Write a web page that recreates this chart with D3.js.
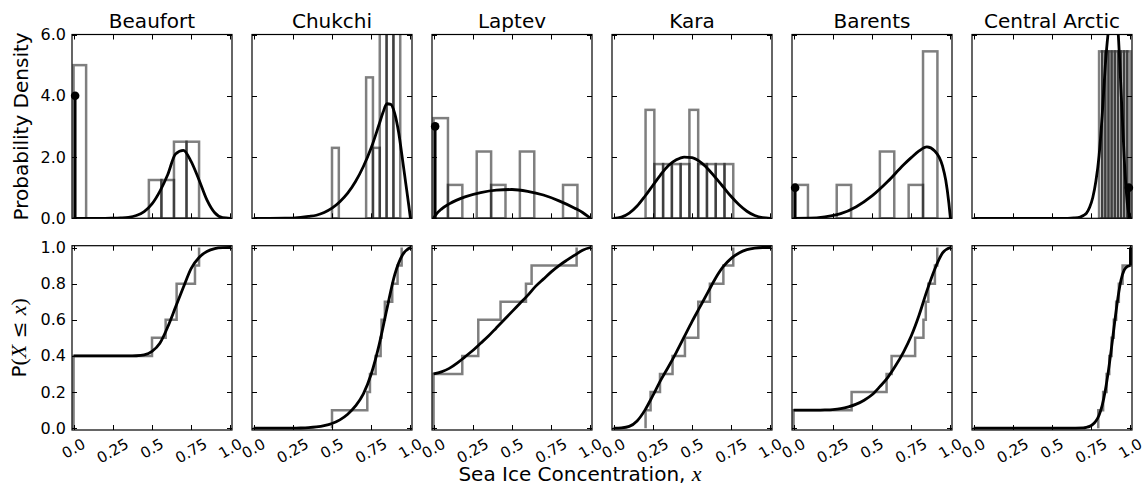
<!DOCTYPE html>
<html><head><meta charset="utf-8">
<script src="https://cdn.jsdelivr.net/npm/d3@7"></script>
<style>
body{margin:0;background:#fff}
svg{display:block}
text{font-family:"DejaVu Sans",sans-serif;fill:#000}
</style>
</head><body>
<svg id="chart" width="1145" height="486"></svg>
<script>
// ---------------- data ----------------
const regions = ["Beaufort","Chukchi","Laptev","Kara","Barents","Central Arctic"];
const xTickValues = [0,0.25,0.5,0.75,1.0];
const xTickLabels = ["0.0","0.25","0.5","0.75","1.0"];
const pdfTickValues = [0,2,4,6];
const pdfTickLabels = ["0.0","2.0","4.0","6.0"];
const cdfTickValues = [0,0.2,0.4,0.6,0.8,1.0];
const cdfTickLabels = ["0.0","0.2","0.4","0.6","0.8","1.0"];

// histogram (density) bins: first edge, bin width, bar heights
const histStart = [0,0.5,0,0.204,0,0.80];
const histWidth = [0.08,0.0435,0.0917,0.0559,0.0917,0.02];
const histHeights = [
  [5.0,0,0,0,0,0,1.25,1.25,2.5,2.5],
  [2.3,0,0,0,0,4.6,2.3,6.9,6.9,6.9],
  [3.27,1.09,0,2.18,1.09,0,2.18,0,0,1.09],
  [3.54,1.77,1.77,1.77,1.77,3.54,1.77,1.77,1.77,1.77],
  [1.09,0,0,1.09,0,0,2.18,0,1.09,5.45],
  [5.45,5.45,5.45,5.45,5.45,5.45,5.45,5.45,5.45,5.45]
];
// point masses (lollipops)
const massX = [0.01,null,0.01,null,0.01,0.99];
const massHeight = [4.0,null,3.0,null,1.0,1.0];
// samples for the empirical CDF
const ecdfSamples = [
  [0,0,0,0,0.50,0.587,0.657,0.657,0.774,0.80],
  [0.50,0.725,0.742,0.778,0.81,0.816,0.837,0.884,0.918,0.944],
  [0,0,0,0.183,0.285,0.285,0.427,0.589,0.625,0.912],
  [0.204,0.236,0.296,0.376,0.455,0.54,0.54,0.614,0.70,0.763],
  [0,0.37,0.593,0.625,0.775,0.828,0.843,0.859,0.901,0.916],
  [0.795,0.826,0.848,0.865,0.88,0.894,0.909,0.926,0.95,1.0]
];
// fitted density curves
const gridX = [0,0.05,0.1,0.15,0.2,0.25,0.3,0.35,0.4,0.45,0.5,0.55,0.6,0.65,0.7,0.75,0.8,0.85,0.9,0.95,1.0];
const pdfX = [
  gridX,
  [0,0.2,0.3,0.35,0.4,0.45,0.5,0.55,0.6,0.65,0.7,0.75,0.8,0.825,0.85,0.875,0.9,0.925,0.95,0.97,0.99,1.0],
  [0,0.02,0.05,0.1,0.2,0.3,0.4,0.5,0.6,0.7,0.8,0.9,0.95,0.98,1.0],
  gridX,
  [0,0.1,0.2,0.3,0.4,0.5,0.6,0.7,0.75,0.8,0.85,0.9,0.95,0.97,0.99,1.0],
  [0,0.6,0.64,0.68,0.70,0.72,0.74,0.76,0.78,0.80,0.82,0.84,0.86,0.88,0.90,0.92,0.94,0.96,0.98,1.0]
];
const pdfY = [
  [0,0,0,0,0,0.002,0.01,0.03,0.09,0.22,0.47,0.88,1.42,2.1,2.22,1.85,1.25,0.6,0.18,0.02,0],
  [0,0.002,0.03,0.06,0.1,0.19,0.33,0.54,0.82,1.2,1.69,2.3,3.06,3.45,3.74,3.72,3.42,2.8,1.9,1.15,0.4,0],
  [0,0.15,0.3,0.47,0.70,0.84,0.92,0.94,0.88,0.76,0.57,0.33,0.19,0.08,0],
  [0,0.04,0.17,0.40,0.72,1.07,1.42,1.72,1.91,2.0,1.98,1.85,1.62,1.33,1.02,0.71,0.44,0.23,0.09,0.02,0],
  [0,0.005,0.05,0.15,0.38,0.73,1.2,1.74,1.98,2.2,2.33,2.2,1.7,1.25,0.5,0],
  [0,0,0.01,0.04,0.09,0.17,0.36,0.68,1.22,2.04,3.36,5.0,6.15,6.8,7.0,6.2,4.2,2.0,0.5,0]
];
// fitted cumulative curves
const cdfX = [
  gridX, gridX, gridX, gridX, gridX,
  [0,0.6,0.7,0.72,0.74,0.76,0.78,0.80,0.82,0.84,0.86,0.88,0.90,0.92,0.94,0.96,0.98,1.0]
];
const cdfY = [
  [0.4,0.4,0.4,0.4,0.4,0.4,0.4,0.4,0.401,0.406,0.425,0.47,0.56,0.67,0.78,0.885,0.945,0.978,0.994,0.999,1.0],
  [0,0,0,0,0,0,0.001,0.003,0.007,0.014,0.026,0.046,0.077,0.123,0.19,0.30,0.46,0.66,0.85,0.96,1.0],
  [0.30,0.312,0.331,0.36,0.395,0.43,0.47,0.51,0.555,0.60,0.645,0.69,0.735,0.785,0.825,0.865,0.90,0.93,0.958,0.985,1.0],
  [0,0.002,0.01,0.04,0.1,0.18,0.265,0.34,0.42,0.505,0.59,0.67,0.75,0.83,0.895,0.94,0.97,0.988,0.997,1.0,1.0],
  [0.1,0.1,0.1,0.1,0.101,0.103,0.108,0.118,0.133,0.155,0.185,0.23,0.28,0.345,0.42,0.51,0.625,0.76,0.88,0.97,1.0],
  [0,0,0.002,0.005,0.01,0.021,0.04,0.072,0.126,0.21,0.32,0.45,0.59,0.72,0.82,0.875,0.895,0.9]
];

// ---------------- layout ----------------
const svg = d3.select("#chart");
const panelW = 160, panelStep = 180, panelLeft = 72;
const topBox = [34.5, 218.3], botBox = [245.7, 430];
const tickFS = 16, xTickFS = 15, titleFS = 20, labelFS = 20;
const grayEdge = "rgba(0,0,0,0.5)";

const defs = svg.append("defs");

regions.forEach((name, i) => {
  const x0 = panelLeft + panelStep * i;
  const x = d3.scaleLinear().domain([-0.01, 1.01]).range([x0, x0 + panelW]);
  const yT = d3.scaleLinear().domain([0, 6]).range([topBox[1], topBox[0]]);
  const yB = d3.scaleLinear().domain([-0.01, 1.01]).range([botBox[1], botBox[0]]);

  defs.append("clipPath").attr("id", "ct" + i).append("rect")
    .attr("x", x0).attr("y", topBox[0]).attr("width", panelW).attr("height", topBox[1] - topBox[0]);
  defs.append("clipPath").attr("id", "cb" + i).append("rect")
    .attr("x", x0).attr("y", botBox[0]).attr("width", panelW).attr("height", botBox[1] - botBox[0]);

  // ---- top panel ----
  const gt = svg.append("g");
  const gtc = gt.append("g").attr("clip-path", `url(#ct${i})`);
  const bars = histHeights[i].map((h, j) => ({h, a: histStart[i] + j * histWidth[i], b: histStart[i] + (j + 1) * histWidth[i]}))
    .filter(d => d.h > 0);
  gtc.selectAll("rect.bar").data(bars).join("rect").attr("class", "bar")
    .attr("x", d => x(d.a)).attr("width", d => x(d.b) - x(d.a))
    .attr("y", d => yT(d.h)).attr("height", d => yT(0) - yT(d.h))
    .attr("fill", "none").attr("stroke", grayEdge).attr("stroke-width", 2.5);

  const pdfPts = pdfX[i].map((v, k) => [v, pdfY[i][k]]);
  gtc.append("path").datum(pdfPts)
    .attr("d", d3.line().x(d => x(d[0])).y(d => yT(d[1])).curve(d3.curveMonotoneX))
    .attr("fill", "none").attr("stroke", "#000").attr("stroke-width", 2.8).attr("stroke-linejoin", "round");

  if (massX[i] !== null) {
    gt.append("line").attr("x1", x(massX[i])).attr("x2", x(massX[i]))
      .attr("y1", yT(0)).attr("y2", yT(massHeight[i]))
      .attr("stroke", "#000").attr("stroke-width", 2.8);
    gt.append("circle").attr("cx", x(massX[i])).attr("cy", yT(massHeight[i])).attr("r", 4.3).attr("fill", "#000");
  }

  drawFrame(gt, x, yT, topBox, pdfTickValues);
  gt.append("text").attr("x", x0 + panelW / 2).attr("y", 28).attr("text-anchor", "middle")
    .attr("font-size", titleFS).text(name);

  // ---- bottom panel ----
  const gb = svg.append("g");
  const gbc = gb.append("g").attr("clip-path", `url(#cb${i})`);
  const s = ecdfSamples[i], n = s.length;
  const stepPts = [[s[0], 0]].concat(s.map((v, k) => [v, (k + 1) / n]));
  gbc.append("path").datum(stepPts)
    .attr("d", d3.line().x(d => x(d[0])).y(d => yB(d[1])).curve(d3.curveStepAfter))
    .attr("fill", "none").attr("stroke", grayEdge).attr("stroke-width", 2.5);

  const cdfPts = cdfX[i].map((v, k) => [v, cdfY[i][k]]);
  gbc.append("path").datum(cdfPts)
    .attr("d", d3.line().x(d => x(d[0])).y(d => yB(d[1])).curve(d3.curveMonotoneX))
    .attr("fill", "none").attr("stroke", "#000").attr("stroke-width", 2.8).attr("stroke-linejoin", "round");
  if (massX[i] !== null && massX[i] > 0.5) {
    // jump of the cumulative curve at the upper point mass
    const last = cdfPts[cdfPts.length - 1];
    gbc.append("line").attr("x1", x(last[0])).attr("x2", x(last[0]))
      .attr("y1", yB(last[1])).attr("y2", yB(1))
      .attr("stroke", "#000").attr("stroke-width", 2.8);
  }

  drawFrame(gb, x, yB, botBox, cdfTickValues);

  // x tick labels (bottom row), rotated 30 deg
  xTickValues.forEach((t, k) => {
    const g = gb.append("g");
    const txt = g.append("text").attr("text-anchor", "middle").attr("dominant-baseline", "central")
      .attr("font-size", xTickFS).text(xTickLabels[k]);
    const w = txt.node().getComputedTextLength();
    const H = w * 0.5 + 0.73 * xTickFS * 0.866;
    g.attr("transform", `translate(${x(t)},${botBox[1] + 8 + H / 2}) rotate(-30)`);
  });

  if (i === 0) {
    pdfTickValues.forEach((t, k) => {
      gt.append("text").attr("x", x0 - 6).attr("y", yT(t)).attr("text-anchor", "end")
        .attr("dominant-baseline", "central").attr("font-size", tickFS).text(pdfTickLabels[k]);
    });
    cdfTickValues.forEach((t, k) => {
      gb.append("text").attr("x", x0 - 6).attr("y", yB(t)).attr("text-anchor", "end")
        .attr("dominant-baseline", "central").attr("font-size", tickFS).text(cdfTickLabels[k]);
    });
  }
});

function drawFrame(g, x, y, box, yTicks) {
  const x0 = x.range()[0], x1 = x.range()[1];
  const tl = 5;
  const tk = g.append("g").attr("stroke", "#000").attr("stroke-width", 1);
  xTickValues.forEach(t => {
    const px = Math.round(x(t)) + 0.5;
    tk.append("line").attr("x1", px).attr("x2", px).attr("y1", box[1]).attr("y2", box[1] - tl);
    tk.append("line").attr("x1", px).attr("x2", px).attr("y1", box[0]).attr("y2", box[0] + tl);
  });
  yTicks.forEach(t => {
    const py = Math.round(y(t)) + 0.5;
    tk.append("line").attr("x1", x0).attr("x2", x0 + tl).attr("y1", py).attr("y2", py);
    tk.append("line").attr("x1", x1).attr("x2", x1 - tl).attr("y1", py).attr("y2", py);
  });
  g.append("rect").attr("x", x0).attr("y", box[0]).attr("width", x1 - x0).attr("height", box[1] - box[0])
    .attr("fill", "none").attr("stroke", "#000").attr("stroke-width", 1.2);
}

// axis labels
svg.append("text").attr("transform", `translate(28,${(topBox[0] + topBox[1]) / 2}) rotate(-90)`)
  .attr("text-anchor", "middle").attr("font-size", labelFS).text("Probability Density");

const pl = svg.append("text").attr("transform", `translate(26,${(botBox[0] + botBox[1]) / 2}) rotate(-90)`)
  .attr("text-anchor", "middle").attr("font-size", labelFS);
pl.append("tspan").text("P");
pl.append("tspan").attr("font-family", "'Liberation Serif',serif").attr("font-size", labelFS + 2).text("(");
pl.append("tspan").attr("font-family", "'Liberation Serif',serif").attr("font-style", "italic").attr("font-size", labelFS + 2).text("X");
pl.append("tspan").attr("font-family", "'DejaVu Serif',serif").attr("font-size", labelFS).text(" ≤ ");
pl.append("tspan").attr("font-family", "'Liberation Serif',serif").attr("font-style", "italic").attr("font-size", labelFS + 2).text("x");
pl.append("tspan").attr("font-family", "'Liberation Serif',serif").attr("font-size", labelFS + 2).text(")");

const xl = svg.append("text").attr("x", 580).attr("y", 481).attr("text-anchor", "middle").attr("font-size", labelFS);
xl.append("tspan").text("Sea Ice Concentration, ");
xl.append("tspan").attr("font-family", "'Liberation Serif',serif").attr("font-style", "italic").attr("font-size", labelFS + 2).text("x");
</script>
</body></html>
